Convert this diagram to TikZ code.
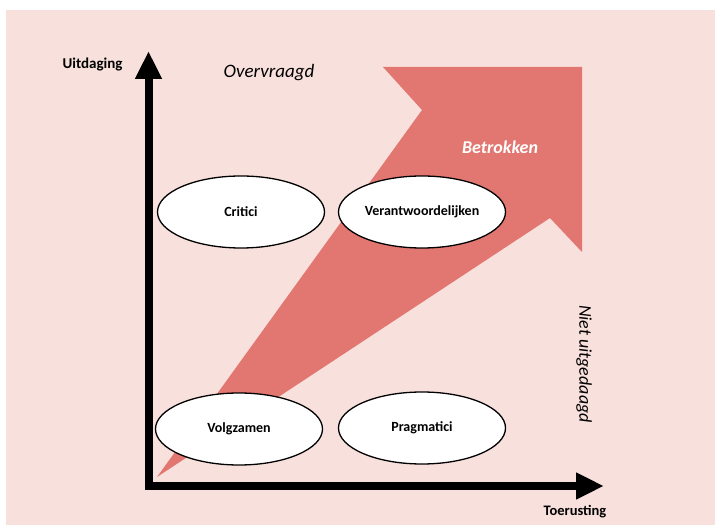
\documentclass[tikz,border=0pt]{standalone}
\usepackage{fontspec}
\setmainfont{Carlito}
\usetikzlibrary{shapes.geometric, arrows.meta}
\definecolor{bgpink}{HTML}{F8E0DC}
\definecolor{arrowred}{HTML}{E27670}

\begin{document}
\begin{tikzpicture}[x=1pt, y=1pt, every node/.style={inner sep=0pt},
    group/.style={ellipse, draw, line width=1.3pt, fill=white, minimum width=167pt, minimum height=72pt, font=\fontsize{14}{16}\selectfont\bfseries},
    axis/.style={line width=8pt, line join=miter, {Triangle[length=28pt, width=25pt]}-{Triangle[length=28pt, width=25pt]}},
    axislabel/.style={font=\fontsize{15}{17}\selectfont\bfseries},
    zone/.style={font=\fontsize{19}{21}\selectfont\itshape}]
    \useasboundingbox (0, 0) rectangle (715, 525);
    \fill[bgpink] (6, 0) rectangle (715, 515);
    % big arrow
    \fill[arrowred] (157, 48) -- (550, 307) -- (582, 273) -- (582, 458) -- (383, 458) -- (422, 415) -- cycle;
    \node[zone, text=white, font=\fontsize{18}{20}\selectfont\bfseries\itshape] (betrokken) at (500, 378) {Betrokken};
    % axes
    \coordinate (ytip) at (148.5, 474);
    \coordinate (xtip) at (604, 39);
    \draw[axis] (ytip) |- (xtip);
    \node[axislabel] (uitdaging) at (92.5, 460) {Uitdaging};
    \node[axislabel, font=\fontsize{14.5}{17}\selectfont\bfseries] (toerusting) at (575, 13) {Toerusting};
    \node[zone] (overvraagd) at (269, 452) {Overvraagd};
    \node[zone, font=\fontsize{18}{20}\selectfont\itshape, rotate=-90] (niet) at (584, 161) {Niet uitgedaagd};
    % groups
    \node[group] (critici) at (241, 313) {Critici};
    \node[group] (verantw) at (422, 313) {Verantwoordelijken};
    \node[group] (volgzamen) at (239, 96) {Volgzamen};
    \node[group] (pragmatici) at (422, 97) {Pragmatici};
\end{tikzpicture}
\end{document}
